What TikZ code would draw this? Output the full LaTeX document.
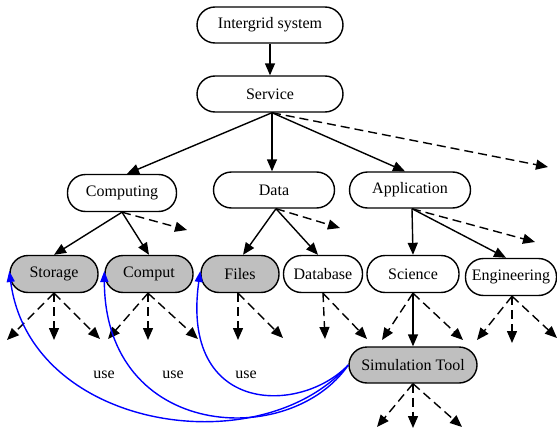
\documentclass[tikz,border=0pt]{standalone}
\usepackage{fontspec}
\setmainfont{Liberation Serif}
\newfontfamily\tfont{Liberation Serif}
\usetikzlibrary{arrows.meta}
\begin{document}
\begin{tikzpicture}[x=1pt,y=-1pt,
  box/.style={draw, line width=1.4pt, rounded corners=18pt, minimum height=36pt, inner sep=0pt, font=\tfont\fontsize{16}{19}\selectfont},
  gbox/.style={box, fill=black!25},
  tip/.style={-{Triangle[length=12pt,width=10pt]}},
  edge/.style={tip, line width=1.4pt},
  stub/.style={tip, line width=1.4pt, dash pattern=on 9pt off 5pt},
  use/.style={-{Triangle[length=11pt,width=8pt]}, draw=blue, line width=1.4pt},
  lbl/.style={font=\tfont\fontsize{16}{19}\selectfont, inner sep=0pt}]
\useasboundingbox (0,0) rectangle (557,431);
% nodes
\node[box, minimum width=146pt] (top) at (270,25) {Intergrid system};
\node[box, minimum width=146pt] (service) at (270,94) {Service};
\node[box, minimum width=109pt, minimum height=37pt] (computing) at (122,193) {Computing};
\node[box, minimum width=121pt] (data) at (274,190) {Data};
\node[box, minimum width=121pt] (application) at (410,190) {Application};
\node[gbox, minimum width=88pt, minimum height=37pt] (storage) at (54,274) {Storage};
\node[gbox, minimum width=88pt, minimum height=37pt] (comput) at (149,274) {Comput};
\node[gbox, minimum width=78pt, minimum height=37pt] (files) at (240,274) {Files};
\node[box, minimum width=79pt, minimum height=37pt] (database) at (323,274) {Database};
\node[box, minimum width=92pt, minimum height=37pt] (science) at (413,274) {Science};
\node[box, minimum width=91pt, minimum height=37pt] (engineering) at (511,277) {Engineering};
\node[gbox, minimum width=128pt] (sim) at (413,365) {Simulation Tool};
% free ends
\coordinate (e1) at (548,167);
\coordinate (e2) at (187,230);
\coordinate (e3) at (340,228);
\coordinate (e4) at (535,242);
\coordinate (a1) at (7,340);
\coordinate (a2) at (54,340);
\coordinate (a3) at (100,339);
\coordinate (b1) at (108,339);
\coordinate (b2) at (148,340);
\coordinate (b3) at (198,339);
\coordinate (c2) at (238,340);
\coordinate (c3) at (283,338);
\coordinate (d2) at (325,339);
\coordinate (d3) at (367,339);
\coordinate (f1) at (382,340);
\coordinate (f3) at (463,340);
\coordinate (g1) at (477,340);
\coordinate (g2) at (512,343);
\coordinate (g3) at (557,338);
\coordinate (h1) at (377,427);
\coordinate (h2) at (413,428);
\coordinate (h3) at (462,427);
% solid edges
\draw[edge] (top) -- (service);
\draw[edge] ([xshift=2pt]service.south) -- ([xshift=5pt]computing.north);
\draw[edge] ([xshift=2pt]service.south) -- ([xshift=-2pt]data.north);
\draw[edge] ([xshift=2pt]service.south) -- ([xshift=-5pt]application.north);
\draw[edge] (computing.south) -- (storage.north);
\draw[edge] (computing.south) -- (comput.north);
\draw[edge] ([xshift=2pt]data.south) -- ([xshift=3pt]files.north);
\draw[edge] ([xshift=2pt]data.south) -- ([xshift=-5pt]database.north);
\draw[edge] ([xshift=2pt]application.south) -- (science.north);
\draw[edge] ([xshift=2pt]application.south) -- ([xshift=-5pt]engineering.north);
\draw[edge] (science.south) -- (sim.north);
% dashed stubs
\draw[stub] ([xshift=2pt]service.south) -- (e1);
\draw[stub] (computing.south) -- (e2);
\draw[stub] ([xshift=2pt]data.south) -- (e3);
\draw[stub] ([xshift=2pt]application.south) -- (e4);
\foreach \t in {a1,a2,a3} \draw[stub] (storage.south) -- (\t);
\foreach \t in {b1,b2,b3} \draw[stub] ([xshift=-1pt]comput.south) -- (\t);
\foreach \t in {c2,c3} \draw[stub] ([xshift=-2pt]files.south) -- (\t);
\foreach \t in {d2,d3} \draw[stub] (database.south) -- (\t);
\foreach \t in {f1,f3} \draw[stub] (science.south) -- (\t);
\foreach \t in {g1,g2,g3} \draw[stub] ([xshift=1pt]engineering.south) -- (\t);
\foreach \t in {h1,h2,h3} \draw[stub] (sim.south) -- (\t);
% use curves
\draw[use] (sim.west) .. controls (260,465) and (30,430) .. ([yshift=3pt]storage.west);
\draw[use] (sim.west) .. controls (290,450) and (105,440) .. ([yshift=3pt]comput.west);
\draw[use] (sim.west) .. controls (300,415) and (180,415) .. ([yshift=3pt]files.west);
\node[lbl] (u1) at (104,375) {use};
\node[lbl] (u2) at (173,375) {use};
\node[lbl] (u3) at (246,375) {use};
\end{tikzpicture}
\end{document}
